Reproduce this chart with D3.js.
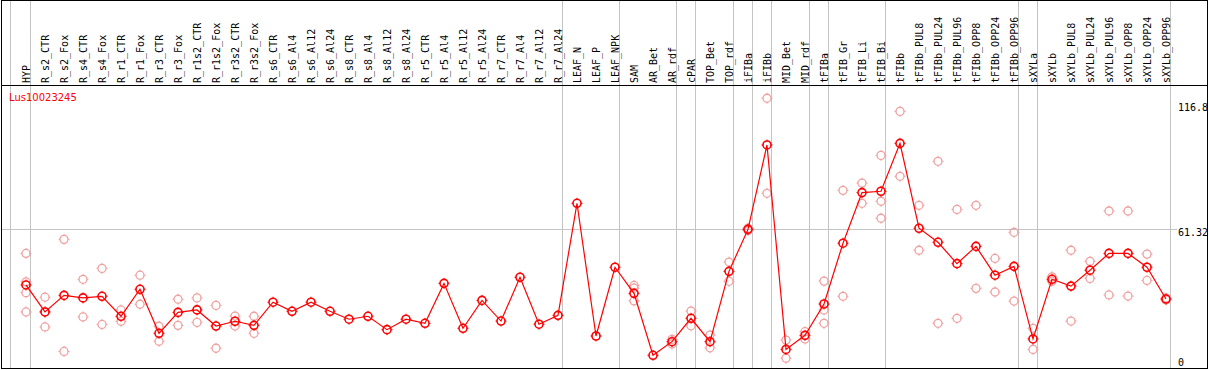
<!DOCTYPE html>
<meta charset="utf-8">
<style>

body { margin: 0; background: #fff; }

.header text {
  font: 10px "DejaVu Sans Mono", monospace;
  fill: #000;
}

.ylabel {
  font: 10px "DejaVu Sans Mono", monospace;
  fill: #000;
}

.title {
  font: 10px "DejaVu Sans", sans-serif;
  fill: #f00;
}

</style>
<svg width="1209" height="370"></svg>
<script src="https://d3js.org/d3.v7.min.js"></script>
<script>

var categories = ["HYP","R_s2_CTR","R_s2_Fox","R_s4_CTR","R_s4_Fox","R_r1_CTR","R_r1_Fox","R_r3_CTR","R_r3_Fox",
  "R_r1s2_CTR","R_r1s2_Fox","R_r3s2_CTR","R_r3s2_Fox","R_s6_CTR","R_s6_Al4","R_s6_Al12","R_s6_Al24",
  "R_s8_CTR","R_s8_Al4","R_s8_Al12","R_s8_Al24","R_r5_CTR","R_r5_Al4","R_r5_Al12","R_r5_Al24",
  "R_r7_CTR","R_r7_Al4","R_r7_Al12","R_r7_Al24","LEAF_N","LEAF_P","LEAF_NPK","SAM","AR_Bet","AR_rdf",
  "cPAR","TOP_Bet","TOP_rdf","iFIBa","iFIBb","MID_Bet","MID_rdf","tFIBa","tFIB_Gr","tFIB_Li","tFIB_Bi",
  "tFIBb","tFIBb_PUL8","tFIBb_PUL24","tFIBb_PUL96","tFIBb_OPP8","tFIBb_OPP24","tFIBb_OPP96",
  "sXYLa","sXYLb","sXYLb_PUL8","sXYLb_PUL24","sXYLb_PUL96","sXYLb_OPP8","sXYLb_OPP24","sXYLb_OPP96"];

var means = [36.6,24.7,32.0,30.9,31.6,22.8,34.7,15.3,24.5,
  25.6,18.5,20.6,18.8,29.0,25.0,29.0,25.0,
  21.5,22.8,16.9,21.5,19.7,37.3,17.5,29.8,
  20.7,40.0,19.3,23.2,72.6,14.1,44.4,32.9,5.6,11.6,
  21.9,11.6,42.6,61.1,98.3,8.2,14.4,28.2,55.0,77.3,77.9,
  99.0,61.6,55.4,46.0,53.6,40.9,44.8,
  12.8,39.1,36.1,43.1,50.5,50.5,44.4,30.4];

var replicates = [
  [50.5,38.0,33.2,24.7],[31.2,24.7,18.1],[56.7,7.3],[39.1,22.5],[43.9,19.2],[25.6,20.6],[40.9,28.1],[18.4,11.8],[30.3,18.8],
  [30.9,20.1],[27.6,8.7],[22.9,18.5],[22.8,15.3],[],[],[],[],
  [],[],[],[],[],[],[],[],
  [],[],[],[],[],[],[],[36.4,35.2,29.6],[],[12.6,10.6],
  [25.1,18.6],[14.5,8.9],[46.7,38.2],[61.6,60.6],[118.9,77.0],[12.3,4.3],[16.0,12.8],[38.3,25.6,19.7],[78.3,31.6],[81.5,72.6],[93.7,73.5,66.0],
  [113.1,84.5],[71.7,51.9],[91.1,19.7],[69.9,21.9],[71.7,35.1],[48.3,33.5],[59.8,29.5],
  [17.5,8.2],[40.2,38.2],[51.9,20.7],[47.0,39.5],[69.2,32.2],[69.2,31.7],[50.2,38.6],[30.8,30.0]];

var groupEnds = ["HYP","R_r7_Al24","LEAF_NPK","AR_rdf","cPAR","TOP_rdf","iFIBa","iFIBb","MID_rdf",
  "tFIBa","tFIB_Bi","tFIBb_OPP96","sXYLa","sXYLb_OPP96"];

var yTicks = [0, 61.32, 116.8];
var gridTicks = [61.32];
var geneName = "Lus10023245";

var svg = d3.select("svg"),
    width = +svg.attr("width"),
    height = +svg.attr("height");

var x = d3.scalePoint()
    .domain(categories)
    .range([26, 1166]);

var y = d3.scaleLinear()
    .domain([0, 116.8])
    .range([368, 103]);

// separators
svg.append("line")
    .attr("x1", x(categories[0]) - 15.5).attr("x2", x(categories[0]) - 15.5)
    .attr("y1", 0).attr("y2", 369)
    .attr("stroke", "#c4c4c4");

svg.append("g")
    .selectAll("line")
    .data(groupEnds)
    .enter().append("line")
      .attr("x1", function(d) { return x(d) + 4.5; })
      .attr("x2", function(d) { return x(d) + 4.5; })
      .attr("y1", 0)
      .attr("y2", 369)
      .attr("stroke", "#c4c4c4");

svg.append("g")
    .selectAll("line")
    .data(gridTicks)
    .enter().append("line")
      .attr("x1", 1)
      .attr("x2", 1177)
      .attr("y1", function(d) { return Math.round(y(d)) + 0.5; })
      .attr("y2", function(d) { return Math.round(y(d)) + 0.5; })
      .attr("stroke", "#c4c4c4");

// frame
svg.append("rect")
    .attr("x", 1.5).attr("y", 0.5)
    .attr("width", 1206).attr("height", 368)
    .attr("fill", "none").attr("stroke", "#000");

svg.append("line")
    .attr("x1", 1).attr("x2", 1208)
    .attr("y1", 85.5).attr("y2", 85.5)
    .attr("stroke", "#000");

// header labels
svg.append("g")
    .attr("class", "header")
    .selectAll("text")
    .data(categories)
    .enter().append("text")
      .attr("transform", function(d) { return "translate(" + (x(d) + 4) + ",83) rotate(-90)"; })
      .text(function(d) { return d; });

svg.append("text")
    .attr("class", "title")
    .attr("x", 9)
    .attr("y", 100.5)
    .text(geneName);

svg.append("g")
    .selectAll("text")
    .data(yTicks)
    .enter().append("text")
      .attr("class", "ylabel")
      .attr("x", 1178)
      .attr("y", function(d) { return Math.min(y(d) + 7.5, 366); })
      .text(function(d) { return d; });

// replicate points
var reps = [];
replicates.forEach(function(list, i) {
  list.forEach(function(v) { reps.push({cat: categories[i], value: v}); });
});

function marker(sel, color, w) {
  sel.append("circle")
      .attr("r", 4)
      .attr("fill", "none")
      .attr("stroke", color)
      .attr("stroke-width", w);
  sel.append("path")
      .attr("d", "M0,-5.5V-4M0,4V5.5M-5.5,0H-4M4,0H5.5")
      .attr("stroke", color)
      .attr("stroke-width", 1);
}

svg.append("g")
    .selectAll("g")
    .data(reps)
    .enter().append("g")
      .attr("transform", function(d) { return "translate(" + x(d.cat) + "," + y(d.value) + ")"; })
      .call(marker, "#f0a0a0", 1.3);

var line = d3.line()
    .x(function(d, i) { return x(categories[i]); })
    .y(function(d) { return y(d); });

svg.append("path")
    .datum(means)
    .attr("fill", "none")
    .attr("stroke", "#f00")
    .attr("stroke-width", 1.2)
    .attr("d", line);

svg.append("g")
    .selectAll("g")
    .data(means)
    .enter().append("g")
      .attr("transform", function(d, i) { return "translate(" + x(categories[i]) + "," + y(d) + ")"; })
      .call(marker, "#f00", 1.6);

</script>
